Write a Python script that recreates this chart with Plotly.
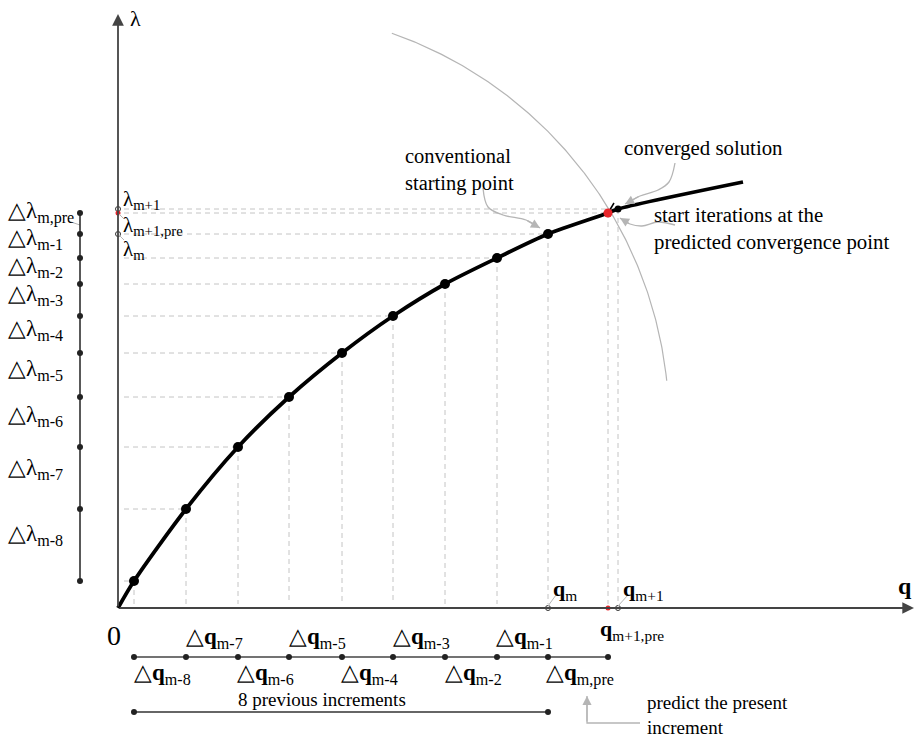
import numpy as np
import plotly.graph_objects as go

# ---------------- data (diagram units: q to the right, lambda up) ----------------
q_pts = [16, 68, 120, 171, 224, 275, 327, 379, 430]          # previous converged points
lam_pts = [27, 99, 161, 211, 255, 292, 324, 350, 374]
q_pred, lam_pred = 490, 395                                    # predicted point (red)
q_conv, lam_conv = 500, 399                                    # converged solution
q_end, lam_end = 625, 426                                      # end of path curve

dlam_labels = ["m-8", "m-7", "m-6", "m-5", "m-4", "m-3", "m-2", "m-1"]
dq_labels = ["m-8", "m-7", "m-6", "m-5", "m-4", "m-3", "m-2", "m-1", "m,pre"]

# arc (arc-length constraint circle)
arc_cq, arc_cl, arc_r = 137, 184, 414
arc_a0, arc_a1 = 70.7, 6.0

FONT = "Liberation Serif"
GRAY = "#b5b5b5"
DASH = "#c4c4c4"

fig = go.Figure()

# dashed guide lines
hx, hy, vx, vy = [], [], [], []
for q, l in zip(q_pts + [q_pred, q_conv], lam_pts + [lam_pred, lam_conv]):
    hx += [6, q, None]; hy += [l, l, None]
    vx += [q, q, None]; vy += [l, 4, None]
fig.add_trace(go.Scatter(x=hx + vx, y=hy + vy, mode="lines",
                         line=dict(color=DASH, width=1, dash="5px,4px"), hoverinfo="skip"))

# arc
ang = np.radians(np.linspace(arc_a0, arc_a1, 200))
fig.add_trace(go.Scatter(x=arc_cq + arc_r * np.cos(ang), y=arc_cl + arc_r * np.sin(ang),
                         mode="lines", line=dict(color=GRAY, width=1.2), hoverinfo="skip"))

# equilibrium path
cx = [0] + q_pts + [q_pred, q_conv, q_end]
cy = [0] + lam_pts + [lam_pred, lam_conv, lam_end]
fig.add_trace(go.Scatter(x=cx, y=cy, mode="lines", line=dict(color="black", width=3.8, shape="spline", smoothing=0.8),
                         hoverinfo="skip"))
fig.add_trace(go.Scatter(x=q_pts, y=lam_pts, mode="markers",
                         marker=dict(color="black", size=10), hoverinfo="skip"))
fig.add_trace(go.Scatter(x=[q_conv], y=[lam_conv], mode="markers",
                         marker=dict(color="black", size=7), hoverinfo="skip"))
# small black tick at the converged point
fig.add_trace(go.Scatter(x=[q_pred, q_pred + 6], y=[lam_pred, lam_pred + 10], mode="lines",
                         line=dict(color="black", width=1.5), hoverinfo="skip"))
fig.add_trace(go.Scatter(x=[q_pred], y=[lam_pred], mode="markers",
                         marker=dict(color="#e8262b", size=9), hoverinfo="skip"))

# markers on the axes
fig.add_trace(go.Scatter(x=[q_pts[-1], q_conv, 0, 0], y=[0, 0, lam_conv, lam_pts[-1]], mode="markers",
                         marker=dict(color="white", size=5, line=dict(color="#333", width=1)), hoverinfo="skip"))
fig.add_trace(go.Scatter(x=[q_pred, 0], y=[0, lam_pred], mode="markers",
                         marker=dict(color="#e8262b", size=5), hoverinfo="skip"))

# leader lines for axis labels
lx = [q_pts[-1], q_pts[-1] + 8, None, q_conv, q_conv + 10, None, 0, 6, None, 0, 6, None, -50, -38]
ly = [2, 13, None, 2, 13, None, lam_pred, lam_pred - 6, None, lam_pts[-1], lam_pts[-1] - 6, None, 387, 383]
fig.add_trace(go.Scatter(x=lx, y=ly, mode="lines", line=dict(color=GRAY, width=1), hoverinfo="skip"))

# delta-lambda bar (left)
dl_q = -38
fig.add_trace(go.Scatter(x=[dl_q] * 10, y=lam_pts + [lam_pred], mode="lines+markers",
                         line=dict(color="#222", width=1.5), marker=dict(color="#222", size=6), hoverinfo="skip"))

# delta-q bar (below)
dq_l = -49
fig.add_trace(go.Scatter(x=q_pts + [q_pred], y=[dq_l] * 10, mode="lines+markers",
                         line=dict(color="#444", width=1.5), marker=dict(color="#222", size=6), hoverinfo="skip"))
# 8 previous increments bar
inc_l = -104
fig.add_trace(go.Scatter(x=[q_pts[0], q_pts[-1]], y=[inc_l, inc_l], mode="lines+markers",
                         line=dict(color="#333", width=1.5), marker=dict(color="#222", size=6), hoverinfo="skip"))

# curved gray callout lines
callouts = [
    ([365, 370, 385, 408, 422], [420, 401, 393, 388, 380]),          # conventional starting point
    ([557, 551, 540, 522, 507], [445, 426, 418, 412, 404]),          # converged solution
    ([557, 540, 524, 512, 502], [383, 386, 382, 384, 390]),          # start iterations
    ([522, 469, 469], [-115, -115, -88]),                            # predict the present increment
]
for xs, ys in callouts:
    shape = "spline" if len(xs) > 3 else "linear"
    fig.add_trace(go.Scatter(x=xs, y=ys, mode="lines", line=dict(color=GRAY, width=1.3, shape=shape),
                             hoverinfo="skip"))

anns = []
# arrowheads of callouts
for (xs, ys) in callouts:
    anns.append(dict(x=xs[-1], y=ys[-1], ax=xs[-2], ay=ys[-2], xref="x", yref="y", axref="x", ayref="y",
                     showarrow=True, arrowhead=2, arrowsize=1.4, arrowwidth=1.3, arrowcolor=GRAY, text=""))
# axes with arrows
anns.append(dict(x=796, y=0, ax=0, ay=0, xref="x", yref="y", axref="x", ayref="y", showarrow=True,
                 arrowhead=2, arrowsize=1.3, arrowwidth=1.8, arrowcolor="#444", text=""))
anns.append(dict(x=0, y=594, ax=0, ay=0, xref="x", yref="y", axref="x", ayref="y", showarrow=True,
                 arrowhead=2, arrowsize=1.3, arrowwidth=1.8, arrowcolor="#444", text=""))


def txt(x, y, s, size=19, xa="left", ya="middle"):
    anns.append(dict(x=x, y=y, xref="x", yref="y", text=s, showarrow=False, xanchor=xa, yanchor=ya,
                     font=dict(family=FONT, size=size, color="black"), align="left"))


txt(10, 590, "λ", 22)
txt(778, 22, "<b>q</b>", 24)
txt(-13, -27, "0", 28)

# lambda labels
txt(3, 408, "λ<sub>m+1</sub>", 21)
txt(3, 382, "λ<sub>m+1,pre</sub>", 21)
txt(3, 358, "λ<sub>m</sub>", 21)

# q labels
txt(q_pts[-1] + 3, 18, "<b>q</b><sub>m</sub>", 22)
txt(q_conv + 3, 18, "<b>q</b><sub>m+1</sub>", 22)
txt(q_pred - 10, -22, "<b>q</b><sub>m+1,pre</sub>", 22)

# delta-lambda labels
dlam_shift = [10, 9, 6, 5, 5, 5, 4, 7]
bounds = lam_pts
for i, lab in enumerate(dlam_labels):
    mid = (bounds[i] + bounds[i + 1]) / 2 + dlam_shift[i]
    txt(-112, mid, "△λ<sub>" + lab + "</sub>", 23)
txt(-112, lam_pred + 1, "△λ<sub>m,pre</sub>", 23)

# delta-q labels (alternating above/below)
qb = q_pts + [q_pred]
for i, lab in enumerate(dq_labels):
    mid = (qb[i] + qb[i + 1]) / 2
    if i % 2 == 1:
        txt(mid + 2, -30, "△<b>q</b><sub>" + lab + "</sub>", 23, xa="center")
    else:
        txt(mid + 2, -66, "△<b>q</b><sub>" + lab + "</sub>", 23, xa="center")

txt(204, -91, "8 previous increments", 19, xa="center")
txt(527, -82, "predict the present<br>increment", 19, ya="top")
txt(285, 438, "conventional<br>starting point", 20.5)
txt(504, 460, "converged solution", 20.8)
txt(534, 380, "start iterations at the<br>predicted convergence point", 20.8)

fig.update_layout(
    width=914, height=747, margin=dict(l=0, r=0, t=0, b=0),
    paper_bgcolor="white", plot_bgcolor="white", showlegend=False,
    xaxis=dict(range=[-118, 796], visible=False, fixedrange=True),
    yaxis=dict(range=[-139, 608], visible=False, fixedrange=True),
    annotations=anns,
)
fig.write_html("out.html")
